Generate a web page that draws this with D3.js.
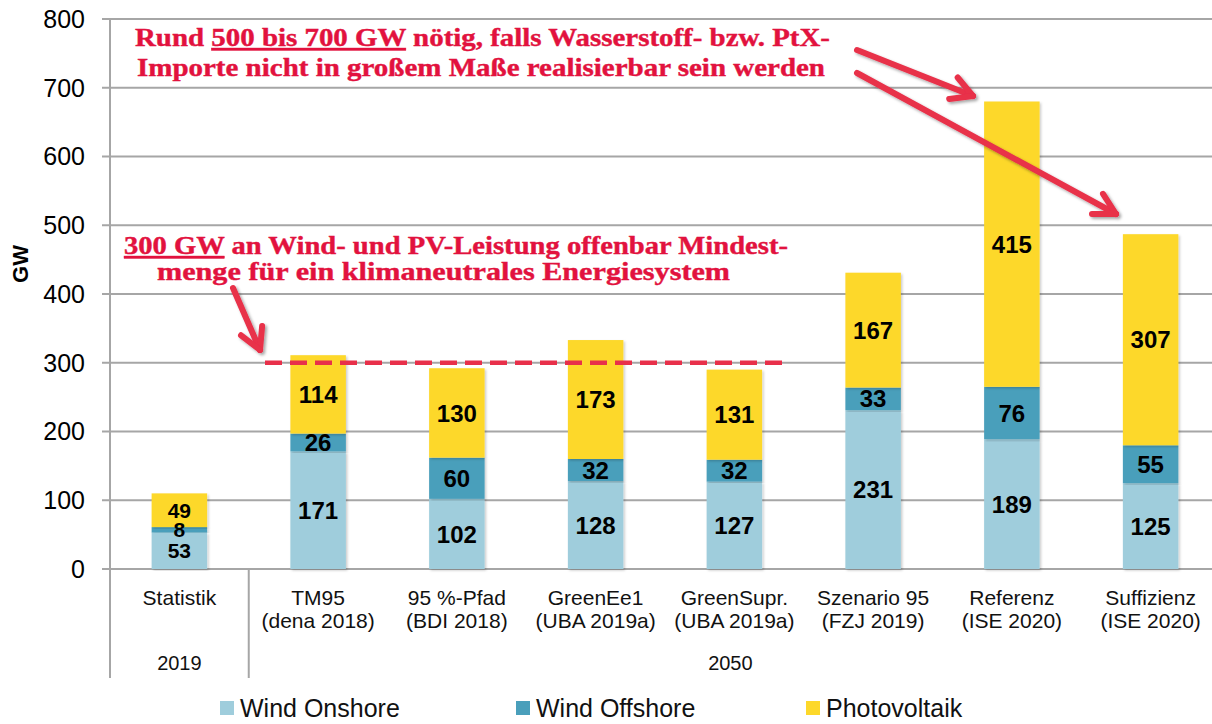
<!DOCTYPE html>
<html>
<head>
<meta charset="utf-8">
<script src="https://cdn.jsdelivr.net/npm/d3@7"></script>
<style>
  body { margin: 0; background: #fff; }
  svg { display: block; font-family: "Liberation Sans", Arial, sans-serif; }
</style>
</head>
<body>
<div id="chart"></div>
<script>
// --------- data ---------
const categories = ['Statistik', 'TM95\n(dena 2018)', '95 %-Pfad\n(BDI 2018)', 'GreenEe1\n(UBA 2019a)',
    'GreenSupr.\n(UBA 2019a)', 'Szenario 95\n(FZJ 2019)', 'Referenz\n(ISE 2020)', 'Suffizienz\n(ISE 2020)'];
const windOnshore = [53, 171, 102, 128, 127, 231, 189, 125];
const windOffshore = [8, 26, 60, 32, 32, 33, 76, 55];
const photovoltaik = [49, 114, 130, 173, 131, 167, 415, 307];
const seriesNames = ['Wind Onshore', 'Wind Offshore', 'Photovoltaik'];
const yTicks = [0, 100, 200, 300, 400, 500, 600, 700, 800];
const groups = [{ label: '2019', from: 0, to: 0 }, { label: '2050', from: 1, to: 7 }];
const minLine = 300;

const colors = ['#9fcddc', '#4a9fbb', '#fdd82a'];
const red = '#e2123e';
const arrowRed = '#e8304a';

const width = 1212, height = 724;
const svg = d3.select('#chart').append('svg')
    .attr('width', width).attr('height', height);

const defs = svg.append('defs');
const sh = defs.append('filter').attr('id', 'shadow')
    .attr('x', '-20%').attr('y', '-20%').attr('width', '150%').attr('height', '150%');
sh.append('feDropShadow').attr('dx', 2).attr('dy', 2).attr('stdDeviation', 1.5)
    .attr('flood-color', '#000').attr('flood-opacity', 0.35);
const shBar = defs.append('filter').attr('id', 'barShadow')
    .attr('x', '-20%').attr('y', '-5%').attr('width', '140%').attr('height', '110%');
shBar.append('feDropShadow').attr('dx', 1.5).attr('dy', 1.5).attr('stdDeviation', 1.2)
    .attr('flood-color', '#000').attr('flood-opacity', 0.2);

// scales
const x = d3.scaleBand().domain(d3.range(categories.length)).range([110, 1220])
    .paddingInner(0.6).paddingOuter(0.3);
const y = d3.scaleLinear().domain([0, 800]).range([569, 19]);

// gridlines
svg.append('g').selectAll('line').data(yTicks).enter().append('line')
    .attr('x1', 102).attr('x2', 1212)
    .attr('y1', d => y(d)).attr('y2', d => y(d))
    .attr('stroke', '#a6a6a6').attr('stroke-width', 2);

// y axis labels
svg.append('g').selectAll('text').data(yTicks).enter().append('text')
    .attr('x', 85).attr('y', d => y(d)).attr('dy', '0.35em')
    .attr('text-anchor', 'end').attr('font-size', 25).attr('fill', '#000')
    .text(d => d);

svg.append('text')
    .attr('transform', 'translate(28,264) rotate(-90)')
    .attr('text-anchor', 'middle').attr('font-size', 22).attr('font-weight', 'bold')
    .text('GW');

// stacked bars
const rows = categories.map((c, i) => ({ i, v: [windOnshore[i], windOffshore[i], photovoltaik[i]] }));
const stack = d3.stack().keys([0, 1, 2]).value((d, k) => d.v[k]);
const stacked = stack(rows);

const barG = svg.append('g');
stacked.forEach((layer, k) => {
    barG.append('g').selectAll('rect').data(layer).enter().append('rect')
        .attr('x', d => x(d.data.i))
        .attr('width', x.bandwidth())
        .attr('y', d => y(d[1]))
        .attr('height', d => y(d[0]) - y(d[1]))
        .attr('fill', colors[k])
        .attr('filter', 'url(#barShadow)');
});
stacked.forEach((layer, k) => {
    barG.append('g').selectAll('text').data(layer).enter().append('text')
        .attr('x', d => x(d.data.i) + x.bandwidth() / 2)
        .attr('y', d => y((d[0] + d[1]) / 2))
        .attr('dy', '0.36em')
        .attr('text-anchor', 'middle')
        .attr('font-size', d => d.data.i === 0 ? 21 : 24).attr('font-weight', 'bold')
        .text(d => d.data.v[k]);
});

// axis lines
svg.append('line').attr('x1', 110).attr('x2', 110).attr('y1', 19).attr('y2', 678)
    .attr('stroke', '#a6a6a6').attr('stroke-width', 2);
const sepX = (x(0) + x.bandwidth() + x(1)) / 2;
svg.append('line').attr('x1', sepX).attr('x2', sepX).attr('y1', 569).attr('y2', 678)
    .attr('stroke', '#a6a6a6').attr('stroke-width', 2);

// category labels
const catG = svg.append('g');
categories.forEach((c, i) => {
    const t = catG.append('text')
        .attr('x', x(i) + x.bandwidth() / 2).attr('y', 605)
        .attr('text-anchor', 'middle').attr('font-size', 21).attr('fill', '#111');
    c.split('\n').forEach((line, j) => {
        t.append('tspan').attr('x', x(i) + x.bandwidth() / 2).attr('dy', j ? 23 : 0).text(line);
    });
});

// group labels
groups.forEach(g => {
    const left = g.from === 0 ? 110 : sepX;
    const right = g.to === categories.length - 1 ? 1212 : sepX;
    svg.append('text').attr('x', (left + right) / 2).attr('y', 670)
        .attr('text-anchor', 'middle').attr('font-size', 20).attr('fill', '#111')
        .text(g.label);
});

// legend
const legendX = [220, 516, 806];
const legend = svg.append('g');
seriesNames.forEach((name, k) => {
    legend.append('rect').attr('x', legendX[k]).attr('y', 701)
        .attr('width', 14).attr('height', 14).attr('fill', colors[k]);
    legend.append('text').attr('x', legendX[k] + 20).attr('y', 717)
        .attr('font-size', 25).attr('fill', '#111').text(name);
});

// 300 GW dashed line
svg.append('line')
    .attr('x1', 265).attr('x2', 790)
    .attr('y1', y(minLine)).attr('y2', y(minLine))
    .attr('stroke', arrowRed).attr('stroke-width', 4.5)
    .attr('stroke-dasharray', '17,8');

// annotation arrows
function arrow(x1, y1, x2, y2) {
    const a = Math.atan2(y2 - y1, x2 - x1);
    const len = 24, spread = 0.5;
    const g = svg.append('g').attr('filter', 'url(#shadow)')
        .attr('stroke', arrowRed).attr('stroke-width', 6)
        .attr('stroke-linecap', 'round').attr('fill', 'none');
    g.append('line').attr('x1', x1).attr('y1', y1).attr('x2', x2).attr('y2', y2);
    [spread, -spread].forEach(s => {
        g.append('line').attr('x1', x2).attr('y1', y2)
            .attr('x2', x2 - len * Math.cos(a + s)).attr('y2', y2 - len * Math.sin(a + s));
    });
}
arrow(857, 50, 973, 96);
arrow(857, 73, 1116, 214);
arrow(233, 288, 260, 350);

// annotation texts
function note(lines, xs, ys, lens) {
    lines.forEach((parts, j) => {
        const t = svg.append('text').attr('x', xs[j]).attr('y', ys[j])
            .attr('font-family', '"Liberation Serif", "DejaVu Serif", serif')
            .attr('font-weight', 'bold').attr('font-size', 25).attr('fill', red)
            .attr('stroke', red).attr('stroke-width', 0.4)
            .attr('textLength', lens[j]).attr('lengthAdjust', 'spacingAndGlyphs');
        parts.forEach(p => {
            const ts = t.append('tspan').text(p.t);
            if (p.u) ts.attr('text-decoration', 'underline');
        });
    });
}
note([
    [{ t: 'Rund ' }, { t: '500 bis 700 GW', u: true }, { t: ' nötig, falls Wasserstoff- bzw. PtX-' }],
    [{ t: 'Importe nicht in großem Maße realisierbar sein werden' }]
], [135, 137], [46, 76], [695, 688]);
note([
    [{ t: '300 GW', u: true }, { t: ' an Wind- und PV-Leistung offenbar Mindest-' }],
    [{ t: 'menge für ein klimaneutrales Energiesystem' }]
], [124, 157], [254, 280], [664, 573]);
</script>
</body>
</html>
